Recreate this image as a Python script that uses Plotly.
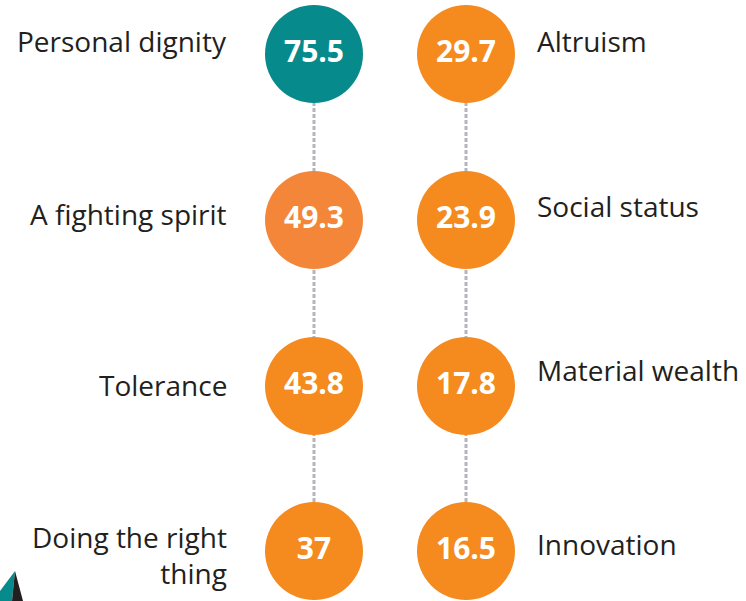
import plotly.graph_objects as go

# ---- data ----
left_labels = ["Personal dignity", "A fighting spirit", "Tolerance", "Doing the right<br>thing"]
left_values = [75.5, 49.3, 43.8, 37]
right_labels = ["Altruism", "Social status", "Material wealth", "Innovation"]
right_values = [29.7, 23.9, 17.8, 16.5]

# ---- layout (pixel-space coordinates) ----
W, H = 746, 601
col_x = [314, 466]
row_y = [54, 220, 386, 551]
left_label_y = [41, 214, 385, 555]
right_label_y = [41, 206, 370, 544]

teal = "#078a8c"
orange = "#f58a1f"
orange2 = "#f48639"
left_colors = [teal, orange2, orange, orange]
right_colors = [orange] * 4

fig = go.Figure()

# dotted connectors
for cx in col_x:
    fig.add_trace(go.Scatter(
        x=[cx, cx], y=[row_y[0], row_y[-1]], mode="lines",
        line=dict(color="#b5b5bd", width=3, dash="4px,2px"),
        hoverinfo="skip", showlegend=False))

def fmt(v):
    return ("%g" % v)

num_font = dict(family="Open Sans", size=30, color="white", weight="bold")

fig.add_trace(go.Scatter(
    x=[col_x[0]] * 4, y=row_y, mode="markers+text",
    marker=dict(size=98, color=left_colors, line=dict(width=0)),
    text=[fmt(v) for v in left_values], textposition="middle center",
    textfont=num_font, hoverinfo="skip", showlegend=False))

fig.add_trace(go.Scatter(
    x=[col_x[1]] * 4, y=row_y, mode="markers+text",
    marker=dict(size=98, color=right_colors, line=dict(width=0)),
    text=[fmt(v) for v in right_values], textposition="middle center",
    textfont=num_font, hoverinfo="skip", showlegend=False))

lab_font = dict(family="Open Sans", size=28, color="#231f20")

# category labels
for lab, ly in zip(left_labels, left_label_y):
    fig.add_annotation(x=229, y=ly, text=lab, showarrow=False,
                       xanchor="right", yanchor="middle", align="right",
                       font=lab_font)
for lab, ly in zip(right_labels, right_label_y):
    fig.add_annotation(x=535, y=ly, text=lab, showarrow=False,
                       xanchor="left", yanchor="middle", align="left",
                       font=lab_font)

# decorative corner triangles
fig.add_shape(type="path", path="M 0 601 L 0 591 L 15 571 L 12 601 Z",
              fillcolor=teal, line=dict(width=0), layer="above")
fig.add_shape(type="path", path="M 12 601 L 15 571 L 23 601 Z",
              fillcolor="#231f20", line=dict(width=0), layer="above")

fig.update_layout(
    width=W, height=H,
    margin=dict(l=0, r=0, t=0, b=0),
    paper_bgcolor="white", plot_bgcolor="white",
    xaxis=dict(range=[0, W], visible=False, fixedrange=True),
    yaxis=dict(range=[H, 0], visible=False, fixedrange=True),
)

fig.write_html("out.html", config={"displayModeBar": False},
               post_script="document.body.style.margin='0';document.body.style.overflow='hidden';")
